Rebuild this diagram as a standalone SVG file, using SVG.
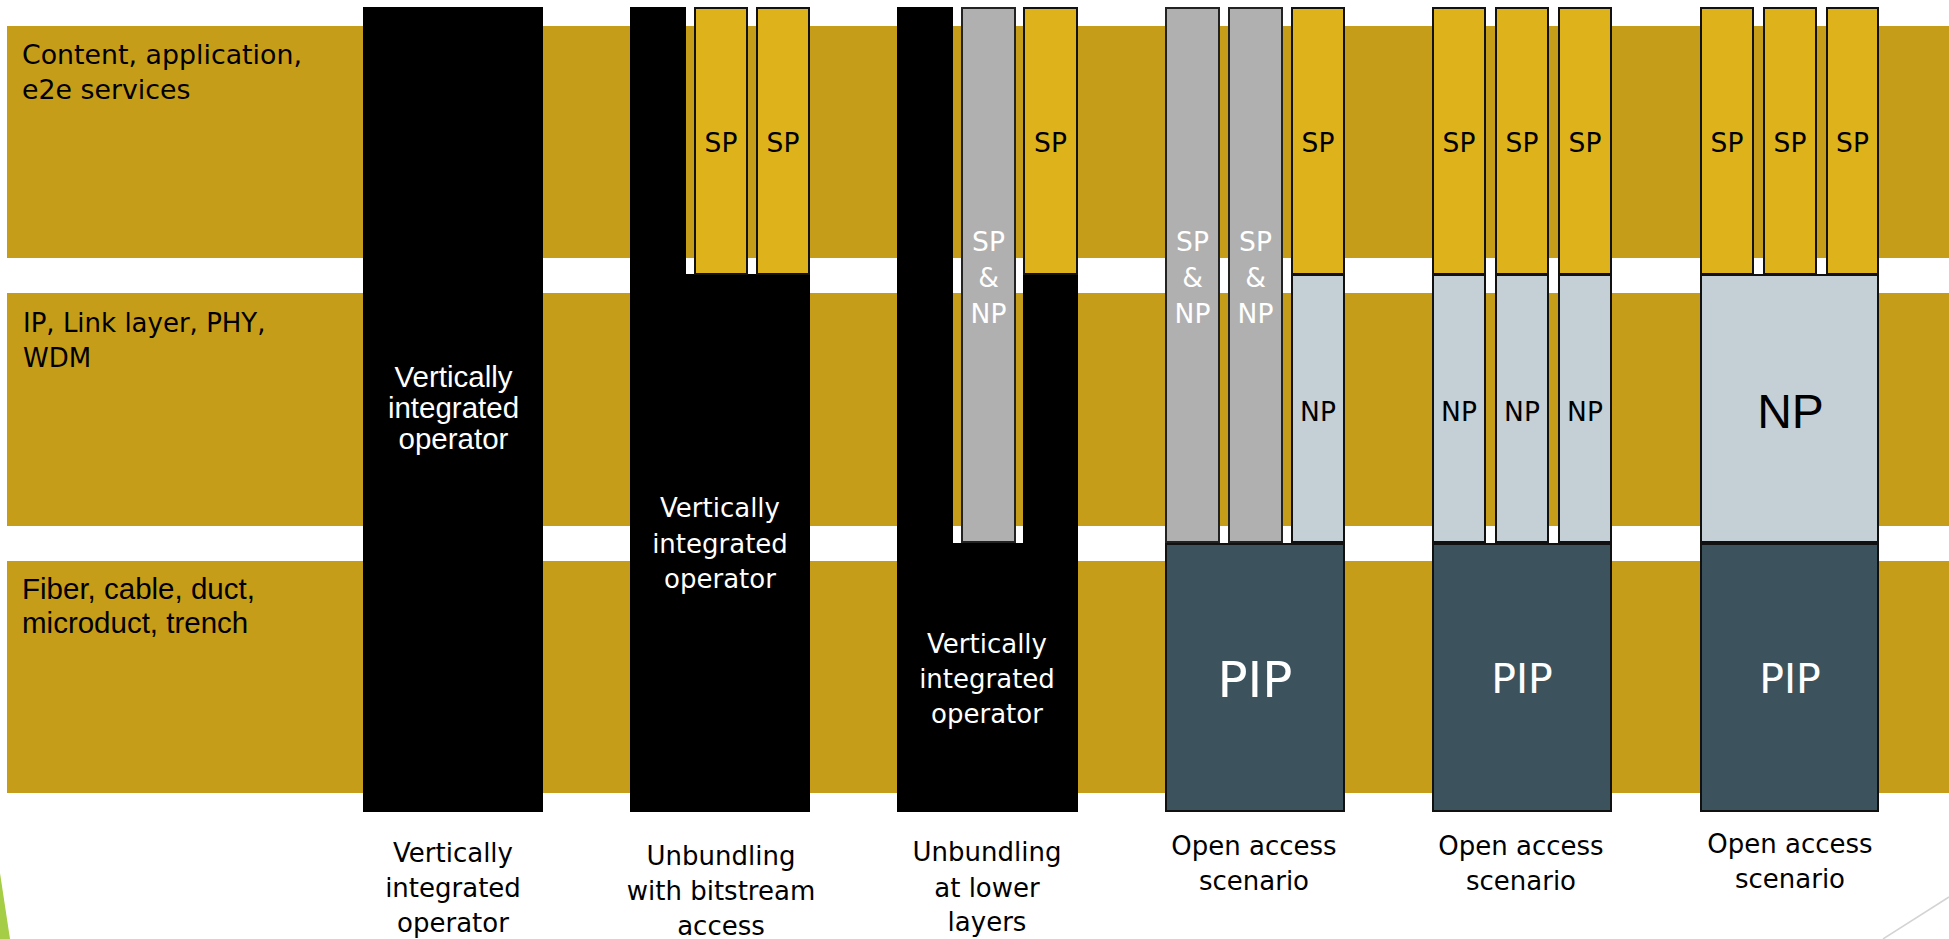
<svg xmlns="http://www.w3.org/2000/svg" width="1949" height="939" viewBox="0 0 1949 939">
<style>
.band{fill:#C69D18;}
.sp{fill:#DDB21B;stroke:#111;stroke-width:2;}
.np{fill:#C4D0D6;stroke:#111;stroke-width:2;}
.gr{fill:#B0B0B0;stroke:#222;stroke-width:2;}
.pip{fill:#3C525C;stroke:#111;stroke-width:2;}
.blk{fill:#000;}
.t{font-family:"DejaVu Sans",Tahoma,sans-serif;font-size:26px;fill:#000;}
.ta{font-family:"Liberation Sans",Arial,sans-serif;font-size:29.5px;fill:#000;}
.c{text-anchor:middle;}
.lbl{font-family:"DejaVu Sans",Tahoma,sans-serif;font-size:26.5px;text-anchor:middle;fill:#000;}
.w{fill:#fff;}
</style>
<rect width="1949" height="939" fill="#fff"/>
<g id="bands">
<rect class="band" x="7" y="26" width="1942" height="232"/>
<rect class="band" x="7" y="293" width="1942" height="233"/>
<rect class="band" x="7" y="561" width="1942" height="232"/>
<text class="t" x="22" y="64" style="font-size:26.8px">Content, application,</text>
<text class="t" x="22" y="99" style="font-size:26.8px">e2e services</text>
<text class="t" x="23" y="332">IP, Link layer, PHY,</text>
<text class="t" x="23" y="367">WDM</text>
<text class="ta" x="22" y="599">Fiber, cable, duct,</text>
<text class="ta" x="22" y="633">microduct, trench</text>
</g>
<g id="col1">
<rect class="blk" x="363" y="7" width="180" height="805"/>
<text class="ta c w" x="453.5" y="387">Vertically</text>
<text class="ta c w" x="453.5" y="418">integrated</text>
<text class="ta c w" x="453.5" y="449">operator</text>
<text class="t c" x="453" y="862">Vertically</text>
<text class="t c" x="453" y="897">integrated</text>
<text class="t c" x="453" y="932">operator</text>
</g>
<g id="col2">
<path class="blk" d="M630,7 H686 V274 H810 V812 H630 Z"/>
<rect class="sp" x="695" y="8" width="52" height="266"/>
<rect class="sp" x="757" y="8" width="52" height="266"/>
<text class="lbl" x="721" y="152">SP</text>
<text class="lbl" x="783" y="152">SP</text>
<text class="t c w" x="720" y="517">Vertically</text>
<text class="t c w" x="720" y="553">integrated</text>
<text class="t c w" x="720" y="588">operator</text>
<text class="t c" x="721" y="865">Unbundling</text>
<text class="t c" x="721" y="900">with bitstream</text>
<text class="t c" x="721" y="935">access</text>
</g>
<g id="col3">
<path class="blk" d="M897,7 H953 V543 H1023 V274 H1078 V812 H897 Z"/>
<rect class="gr" x="962" y="8" width="53" height="534"/>
<rect class="sp" x="1024" y="8" width="53" height="266"/>
<text class="lbl" x="1050.5" y="152">SP</text>
<text class="lbl w" x="988.5" y="251">SP</text>
<text class="lbl w" x="988.5" y="287">&amp;</text>
<text class="lbl w" x="988.5" y="323">NP</text>
<text class="t c w" x="987" y="653">Vertically</text>
<text class="t c w" x="987" y="688">integrated</text>
<text class="t c w" x="987" y="723">operator</text>
<text class="t c" x="987" y="861">Unbundling</text>
<text class="t c" x="987" y="897">at lower</text>
<text class="t c" x="987" y="931">layers</text>
</g>
<g id="col4">
<rect class="gr" x="1166" y="8" width="53" height="534"/>
<rect class="gr" x="1229" y="8" width="53" height="534"/>
<rect class="sp" x="1292" y="8" width="52" height="266"/>
<rect class="np" x="1292" y="275" width="52" height="267"/>
<rect class="pip" x="1166" y="544" width="178" height="267"/>
<text class="lbl w" x="1192.5" y="251">SP</text>
<text class="lbl w" x="1192.5" y="287">&amp;</text>
<text class="lbl w" x="1192.5" y="323">NP</text>
<text class="lbl w" x="1255.5" y="251">SP</text>
<text class="lbl w" x="1255.5" y="287">&amp;</text>
<text class="lbl w" x="1255.5" y="323">NP</text>
<text class="lbl" x="1318" y="152">SP</text>
<text class="lbl" x="1318" y="421">NP</text>
<text class="lbl w" x="1255" y="697" style="font-size:50px">PIP</text>
<text class="t c" x="1254" y="855">Open access</text>
<text class="t c" x="1254" y="890">scenario</text>
</g>
<g id="col5">
<rect class="sp" x="1433" y="8" width="52" height="266"/>
<rect class="sp" x="1496" y="8" width="52" height="266"/>
<rect class="sp" x="1559" y="8" width="52" height="266"/>
<rect class="np" x="1433" y="275" width="52" height="267"/>
<rect class="np" x="1496" y="275" width="52" height="267"/>
<rect class="np" x="1559" y="275" width="52" height="267"/>
<rect class="pip" x="1433" y="544" width="178" height="267"/>
<text class="lbl" x="1459" y="152">SP</text>
<text class="lbl" x="1522" y="152">SP</text>
<text class="lbl" x="1585" y="152">SP</text>
<text class="lbl" x="1459" y="421">NP</text>
<text class="lbl" x="1522" y="421">NP</text>
<text class="lbl" x="1585" y="421">NP</text>
<text class="lbl w" x="1522" y="693" style="font-size:41px">PIP</text>
<text class="t c" x="1521" y="855">Open access</text>
<text class="t c" x="1521" y="890">scenario</text>
</g>
<g id="col6">
<rect class="sp" x="1701" y="8" width="52" height="266"/>
<rect class="sp" x="1764" y="8" width="52" height="266"/>
<rect class="sp" x="1827" y="8" width="51" height="266"/>
<rect class="np" x="1701" y="275" width="177" height="267"/>
<rect class="pip" x="1701" y="544" width="177" height="267"/>
<text class="lbl" x="1727" y="152">SP</text>
<text class="lbl" x="1790" y="152">SP</text>
<text class="lbl" x="1852.5" y="152">SP</text>
<text class="ta c" x="1790.5" y="428" style="font-size:48px">NP</text>
<text class="lbl w" x="1790" y="693" style="font-size:41px">PIP</text>
<text class="t c" x="1790" y="853">Open access</text>
<text class="t c" x="1790" y="888">scenario</text>
</g>
<g id="decor">
<polygon points="0,873 10,939 0,939" fill="#A5CD45"/>
<line x1="1949" y1="897" x2="1883" y2="939" stroke="#d4d4d4" stroke-width="1.5"/>
</g>
<g id="connectors"></g>
</svg>
